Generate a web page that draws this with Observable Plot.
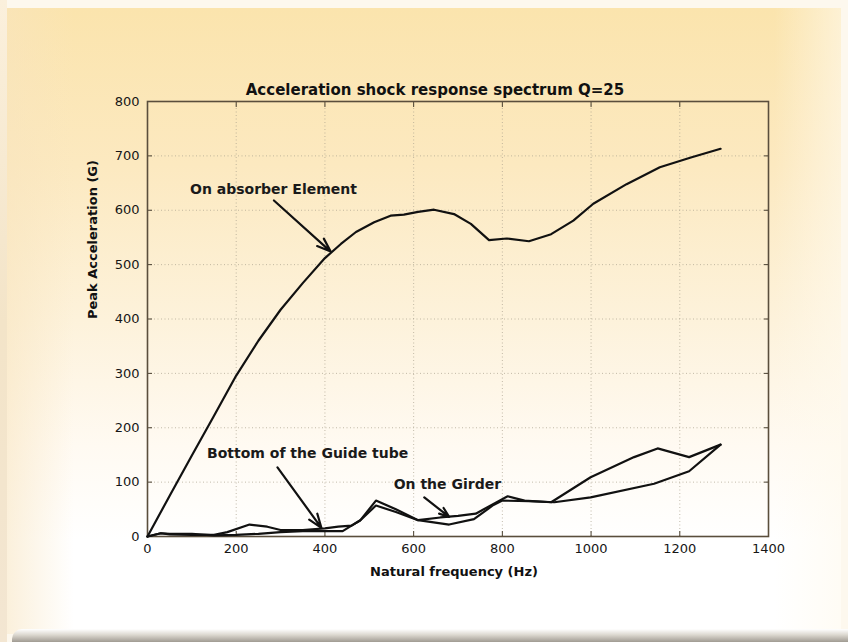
<!DOCTYPE html>
<html>
<head>
<meta charset="utf-8">
<script src="https://cdn.jsdelivr.net/npm/d3@7"></script>
<script src="https://cdn.jsdelivr.net/npm/@observablehq/plot@0.6"></script>
<style>
  html, body { margin: 0; padding: 0; background: #fdf8ee; }
  #wrap { position: relative; width: 848px; height: 642px; overflow: hidden; background: #fdf8ee; }
  #leftstrip { position: absolute; left: 0; top: 0; width: 7px; height: 642px; background: linear-gradient(to bottom, #fbf0dc, #f3e4c8 50%, #f3e6d2); }
  #panel { position: absolute; left: 7px; top: 8px; width: 834px; height: 626px;
    background: linear-gradient(to bottom, #fbe4ad 0%, #fce9c0 25%, #fdf2db 50%, #fffaf2 70%, #ffffff 85%); }
  #panelside { position: absolute; left: 7px; top: 8px; width: 834px; height: 626px;
    background: linear-gradient(to right, rgba(248,228,190,0.55) 0%, rgba(255,255,255,0) 8%, rgba(255,255,255,0) 92%, rgba(255,250,238,0.6) 100%); }
  #shadow { position: absolute; left: 12px; top: 629px; width: 836px; height: 13px;
    background: linear-gradient(to bottom, #ffffff 0%, #dcd8d0 45%, #a09b92 100%); border-top-left-radius: 10px; }
  #chart { position: absolute; left: 0; top: 0; }
</style>
</head>
<body>
<div id="wrap">
  <div id="leftstrip"></div>
  <div id="panel"></div>
  <div id="panelside"></div>
  <div id="shadow"></div>
  <div id="chart"></div>
</div>
<script>
// ---- Data ----
const titleText = "Acceleration shock response spectrum Q=25";
const xLabel = "Natural frequency (Hz)";
const yLabel = "Peak Acceleration (G)";

const xTicks = [0, 200, 400, 600, 800, 1000, 1200, 1400];
const yTicks = [0, 100, 200, 300, 400, 500, 600, 700, 800];

// On absorber Element
const absorberFreq = [0, 50, 100, 150, 200, 250, 300, 350, 400, 436, 470, 511, 548, 578, 610, 646, 691, 729, 770, 810, 860, 910, 960, 1005, 1080, 1155, 1225, 1292];
const absorberAcc  = [0, 75, 149, 222, 296, 360, 417, 466, 512, 538, 560, 578, 590, 592, 597, 601, 593, 575, 545, 548, 543, 556, 581, 612, 648, 679, 697, 713];

// Bottom of the Guide tube
const guideFreq = [0, 30, 50, 100, 150, 180, 230, 270, 300, 350, 400, 430, 460, 480, 515, 560, 610, 660, 700, 740, 780, 812, 850, 910, 999, 1097, 1150, 1221, 1292];
const guideAcc  = [0, 6, 4, 3, 3, 8, 22, 18, 12, 12, 15, 18, 20, 30, 66, 50, 30, 35, 38, 42, 60, 74, 66, 63, 109, 146, 162, 146, 169];

// On the Girder
const girderFreq = [0, 30, 50, 100, 150, 200, 250, 300, 350, 400, 440, 460, 480, 515, 560, 610, 680, 736, 780, 800, 860, 917, 999, 1142, 1221, 1292];
const girderAcc  = [0, 6, 5, 5, 2, 3, 5, 8, 10, 10, 10, 20, 30, 57, 45, 30, 22, 32, 58, 66, 65, 63, 72, 97, 120, 169];

// Annotation labels and arrows
const noteText  = ["On absorber Element", "Bottom of the Guide tube", "On the Girder"];
const noteX     = [284, 361, 676];
const noteY     = [638, 152, 95];
const arrowX1   = [285, 293, 624];
const arrowY1   = [618, 127, 72];
const arrowX2   = [413, 392, 680];
const arrowY2   = [524, 16, 36];

// ---- Build ----
const series = [
  ...absorberFreq.map((f, i) => ({f, a: absorberAcc[i], s: "absorber"})),
  ...guideFreq.map((f, i) => ({f, a: guideAcc[i], s: "guide"})),
  ...girderFreq.map((f, i) => ({f, a: girderAcc[i], s: "girder"}))
];
const notes = noteText.map((t, i) => ({t, x: noteX[i], y: noteY[i]}));
const arrows = arrowX1.map((x1, i) => ({x1, y1: arrowY1[i], x2: arrowX2[i], y2: arrowY2[i]}));

const font = "'DejaVu Sans', Verdana, sans-serif";
const fmt = d => String(d);

const chart = Plot.plot({
  width: 848,
  height: 642,
  marginLeft: 147,
  marginRight: 80,
  marginTop: 101,
  marginBottom: 106,
  style: { background: "transparent", fontFamily: font, fontSize: "13px", color: "#1a1a1a", overflow: "visible" },
  x: { domain: [0, 1400], ticks: xTicks, tickFormat: fmt },
  y: { domain: [0, 800], ticks: yTicks, tickFormat: fmt },
  marks: [
    Plot.gridX(xTicks, { stroke: "#a89f8c", strokeOpacity: 0.7, strokeDasharray: "1,2.5" }),
    Plot.gridY(yTicks, { stroke: "#a89f8c", strokeOpacity: 0.7, strokeDasharray: "1,2.5" }),
    Plot.axisX(xTicks, { anchor: "bottom", tickSize: 0, tickPadding: 7, label: null, fontSize: 13, tickFormat: fmt, fill: "#161616" }),
    Plot.axisX(xTicks, { anchor: "bottom", tickSize: -5, text: null, label: null, stroke: "#4a4030" }),
    Plot.axisX(xTicks, { anchor: "top", tickSize: -5, text: null, label: null, stroke: "#4a4030" }),
    Plot.axisY(yTicks, { anchor: "left", tickSize: 0, tickPadding: 8, label: null, fontSize: 13, tickFormat: fmt, fill: "#161616" }),
    Plot.axisY(yTicks, { anchor: "left", tickSize: -5, text: null, label: null, stroke: "#4a4030" }),
    Plot.axisY(yTicks, { anchor: "right", tickSize: -5, text: null, label: null, stroke: "#4a4030" }),
    Plot.frame({ stroke: "#5a4e3c", strokeWidth: 1.6 }),
    Plot.line(series, { x: "f", y: "a", z: "s", stroke: "#111", strokeWidth: 2.2, strokeLinejoin: "round" }),
    Plot.arrow(arrows, { x1: "x1", y1: "y1", x2: "x2", y2: "y2", stroke: "#111", strokeWidth: 2.2, headLength: 10, headAngle: 40 }),
    Plot.text(notes, { x: "x", y: "y", text: "t", fontSize: 14, fontWeight: "bold", fill: "#1a1a1a" }),
    Plot.text([titleText], { frameAnchor: "top", dy: -17, dx: -23, fontSize: 15, fontWeight: "bold", fill: "#111" }),
    Plot.text([xLabel], { frameAnchor: "bottom", dy: 39, dx: -4, fontSize: 13, fontWeight: "bold", fill: "#111" }),
    Plot.text([yLabel], { frameAnchor: "left", dx: -55, dy: 0, rotate: -90, fontSize: 13, fontWeight: "bold", fill: "#111" })
  ]
});
document.getElementById("chart").appendChild(chart);
</script>
</body>
</html>
